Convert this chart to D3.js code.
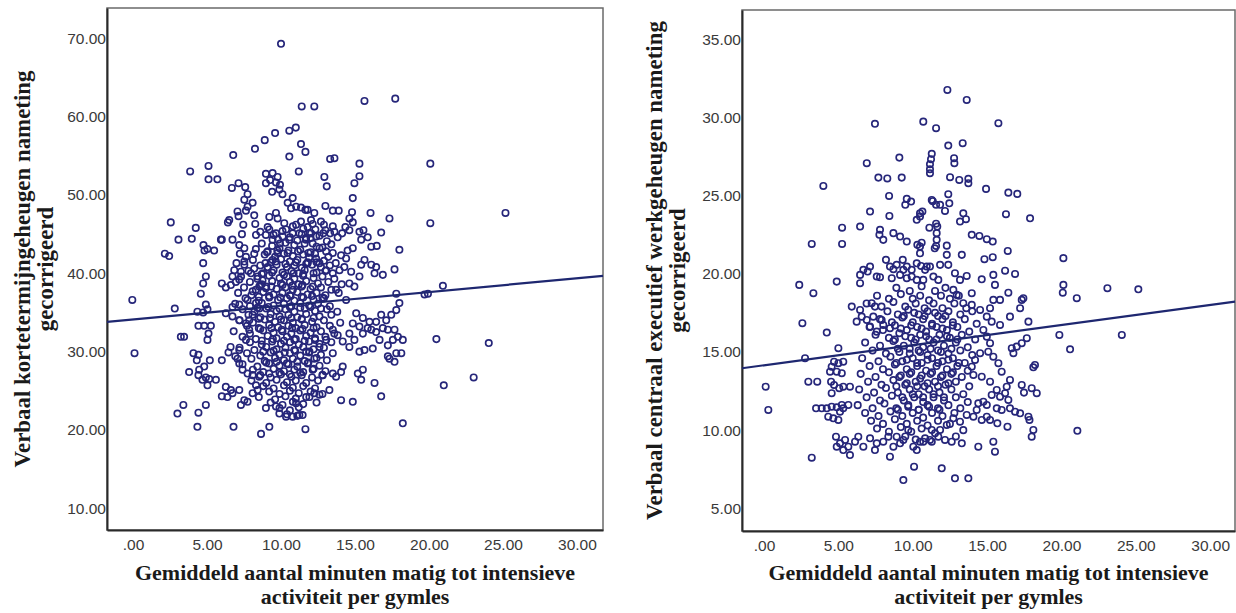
<!DOCTYPE html>
<html>
<head>
<meta charset="utf-8">
<script src="https://d3js.org/d3.v7.min.js"></script>
<style>
  html, body { margin: 0; padding: 0; background: #ffffff; }
  svg { display: block; }
</style>
</head>
<body>
<svg id="chart" width="1236" height="613"></svg>
<script>
// ---- data -------------------------------------------------------------
const activityTicks = [0, 5, 10, 15, 20, 25, 30];
const kortTicks = [10, 20, 30, 40, 50, 60, 70];
const werkTicks = [5, 10, 15, 20, 25, 30, 35];

const xTitle = ["Gemiddeld aantal minuten matig tot intensieve", "activiteit per gymles"];
const kortTitle = ["Verbaal kortetermijngeheugen nameting", "gecorrigeerd"];
const werkTitle = ["Verbaal centraal executief werkgeheugen nameting", "gecorrigeerd"];

// linear fit lines: [intercept, slope]
const kortFit = [34.11, 0.1749];
const werkFit = [14.15, 0.1285];

// [minutes MVPA per PE lesson, short-term memory score]
const kortPoints = [
  [10.0,69.3],[11.4,61.3],[12.25,61.3],[15.64,62.0],[17.72,62.3],
  [9.6,57.9],[10.56,58.2],[11.0,58.6],[8.9,57.0],[8.24,55.9],[11.35,56.5],[11.65,55.5],[6.77,55.1],[10.56,54.9],
  [5.1,53.7],[3.86,53.0],[5.1,52.0],[5.7,52.0],[11.2,53.0],
  [8.98,52.7],[9.43,52.8],[9.77,52.3],[9.26,51.9],[9.66,51.6],[9.93,51.3],[8.98,51.5],[9.89,50.7],[9.40,50.4],[10.1,50.1],
  [6.68,50.9],[7.13,51.5],[7.58,51.0],[7.74,50.1],[7.52,49.4],
  [8.08,49.0],[7.74,48.5],[7.63,48.0],[7.06,47.9],[7.13,47.3],[6.5,46.8],[6.41,46.5],
  [8.19,47.4],[8.26,46.3],[8.31,44.9],[7.45,46.2],[7.36,45.0],[6.72,44.3],[5.94,44.3],[7.18,43.6],[7.52,43.2],[7.22,42.5],[7.63,42.1],[7.52,41.5],[6.99,41.3],[8.19,42.5],
  [2.55,46.5],[4.24,45.8],[3.07,44.3],[3.97,44.4],[4.76,43.6],[5.03,43.1],[5.48,42.9],[4.83,42.9],[6.0,44.3],[2.15,42.5],[2.44,42.2],[4.74,41.3],[4.92,39.6],[4.74,38.7],[4.58,37.4],
  [6.0,38.7],[6.27,38.2],[6.61,38.5],[6.95,38.9],[6.72,39.6],[7.18,39.2],[7.29,40.2],[6.84,40.4],
  [7.52,41.1],[8.19,40.6],[7.97,40.0],[8.42,39.6],[8.75,39.1],[8.98,38.1],[8.53,38.3],[8.08,37.7],
  [9.09,40.8],[9.43,41.7],[9.77,42.6],[9.93,43.8],[9.43,44.3],[8.98,44.9],[9.21,45.6],[9.66,45.1],[10.11,44.7],[10.34,45.6],[10.22,46.4],[9.77,47.0],[9.66,47.7],[9.21,47.2],
  [10.45,49.0],[10.79,49.6],[10.68,48.3],[11.02,48.5],[11.35,48.4],[11.65,48.1],[12.25,47.7],[12.03,46.8],[11.80,45.9],[11.35,46.6],[11.02,46.2],[10.79,45.1],[10.56,44.3],[11.24,45.1],[11.69,44.5],[12.03,45.1],[12.32,45.6],
  [13.32,54.6],[13.61,54.7],[15.3,54.0],[20.09,54.0],[12.93,52.3],[13.09,51.1],[15.3,52.4],[14.96,51.5],[14.85,49.6],
  [11.8,48.1],[13.0,48.6],[13.5,48.0],[13.9,48.0],[14.8,47.8],[16.05,47.7],[17.33,47.0],[14.62,47.0],[14.35,45.9],[14.85,46.5],[14.13,45.1],[13.5,46.0],[13.0,45.5],[12.7,46.6],[12.14,46.3],[11.92,45.1],
  [12.37,44.7],[12.86,45.1],[13.32,45.1],[13.61,45.3],[13.83,44.6],[14.62,45.5],[15.3,45.3],[15.57,45.5],[15.86,44.6],[16.77,45.2],[16.1,43.4],[16.47,43.5],[15.42,44.3],[14.85,43.2],
  [14.4,41.9],[14.06,42.3],[13.5,42.6],[13.05,42.8],[12.6,43.2],[12.14,43.8],[11.69,44.3],[15.64,41.7],[15.42,41.1],[16.1,41.1],[16.43,40.8],[16.32,40.0],[16.88,39.8],[17.67,40.5],[18.0,43.0],
  [17.79,37.4],[15.3,39.6],[14.74,40.2],[14.28,40.8],[13.95,40.4],[13.5,40.0],[13.05,40.4],[12.6,41.3],[12.37,41.9],[11.8,41.3],[14.96,38.3],[14.62,38.7],[13.72,37.9],
  [20.94,38.4],[19.93,37.4],[19.7,37.3],[25.17,47.7],[20.09,46.4],
  [20.5,31.6],[24.04,31.1],[21.0,25.7],[23.02,26.7],[18.23,20.85],[11.65,20.1],[11.46,21.9],
  [18.0,36.2],[17.79,35.3],[17.45,34.7],[17.11,34.0],[16.77,34.7],[16.43,33.8],[15.98,33.8],[15.53,34.3],[15.08,34.9],[14.85,33.6],[14.62,32.3],[14.96,31.5],[15.3,33.2],[15.53,32.3],[15.86,33.0],
  [16.1,32.8],[16.43,32.5],[16.88,33.0],[17.22,32.8],[17.67,32.8],[17.9,31.9],[17.56,31.5],[17.22,30.8],[16.66,31.5],[16.2,30.4],[15.64,30.2],[15.3,30.0],[14.62,30.6],[14.17,31.3],[13.83,32.1],
  [13.5,32.8],[13.05,31.5],[12.6,30.6],[12.25,29.1],[11.92,30.0],[12.14,27.7],[12.82,27.0],[13.5,27.2],[14.17,28.1],[14.06,27.4],[13.72,26.8],[13.27,25.1],[12.6,24.5],[12.25,24.7],[11.92,24.2],
  [14.06,23.8],[14.85,23.6],[15.19,27.2],[15.53,27.7],[15.42,26.4],[16.32,26.0],[16.77,24.3],[17.22,29.4],[17.67,28.7],[17.79,29.8],[18.23,31.5],[18.13,29.8],[17.33,29.1],
  [-0.05,36.6],[0.1,29.8],[2.82,35.5],[3.23,31.9],[3.45,31.9],[3.0,22.1],[3.4,23.2],[4.42,22.2],[4.92,23.2],[4.35,20.4],[6.79,20.4],[8.65,19.5],[9.21,20.4],
  [3.79,27.4],[4.08,29.8],[4.42,29.6],[4.31,28.9],[4.47,27.7],[4.81,28.1],[4.42,27.0],[4.69,26.4],[4.92,26.7],[5.15,26.5],[5.03,25.7],[5.6,26.4],[5.19,28.9],[5.03,31.5],[5.1,32.3],
  [4.42,33.3],[4.81,33.3],[5.26,33.3],[4.35,35.1],[4.92,36.0],[4.74,35.0],[5.03,35.4],[6.0,28.9],[6.45,29.9],[6.59,30.6],[7.06,29.1],[6.61,25.1],[6.0,24.3],[6.38,24.2],[6.27,25.5],
  [6.72,24.7],[7.18,25.1],[7.52,23.8],[7.29,23.2],[7.74,23.6],[8.08,24.7],[8.42,25.1],[8.31,25.7],[8.53,26.8],[8.08,27.0],[7.74,27.2],[7.4,27.7],[7.18,28.5],[6.91,29.4],[7.18,30.2],
  [7.63,31.5],[7.85,32.8],[7.63,33.6],[7.18,34.0],[6.72,34.5],[6.27,34.9],[6.72,35.7],[7.18,36.0],[7.74,36.6],[8.31,36.2],[8.53,35.5],[8.08,34.7],[7.85,34.0],
  [8.98,22.8],[9.66,23.0],[9.89,22.1],[10.34,21.7],[10.79,21.7],[11.24,21.9],[11.02,23.4],
  [9.1,45.9],[10.8,46.0],[11.5,45.7],[12.9,46.2],
  [8.6,45.3],[9.5,44.9],[10.1,45.4],[11.4,45.0],[12.6,44.8],
  [9.8,44.3],[10.6,44.6],[11.1,44.2],[12.0,44.5],[13.1,44.1],
  [8.7,43.8],[9.4,43.5],[10.3,43.9],[10.9,43.6],[11.6,43.8],[12.4,43.4],[13.4,43.7],
  [8.3,43.1],[9.1,42.8],[9.9,43.2],[10.5,42.9],[11.3,43.0],[12.0,42.7],[12.8,43.3],[14.5,42.9],
  [8.9,42.4],[9.6,42.1],[10.2,42.5],[10.8,42.2],[11.5,42.4],[11.9,42.0],[12.3,42.5],[13.2,42.1],
  [8.1,41.7],[9.3,41.4],[10.0,41.8],[10.6,41.5],[11.1,41.7],[11.8,41.4],[12.9,41.6],[13.7,41.3],
  [8.6,41.0],[9.1,40.7],[9.7,41.1],[10.4,40.8],[10.9,41.0],[11.4,40.7],[12.1,41.1],[12.7,40.8],[13.3,41.0],
  [7.8,40.3],[8.8,40.0],[9.5,40.4],[10.1,40.1],[10.7,40.3],[11.2,40.0],[11.6,40.4],[12.4,40.1],[13.0,40.3],
  [7.3,39.6],[8.4,39.3],[9.2,39.7],[9.9,39.4],[10.4,39.6],[10.9,39.3],[11.5,39.7],[12.2,39.4],[12.8,39.6],[13.6,39.3],
  [7.9,38.9],[8.7,38.6],[9.4,39.0],[10.0,38.7],[10.6,38.9],[11.2,38.6],[11.7,39.0],[12.5,38.7],[13.2,38.9],[14.1,38.6],
  [7.5,38.2],[8.3,37.9],[9.0,38.3],[9.7,38.0],[10.3,38.2],[10.8,37.9],[11.4,38.3],[12.0,38.0],[12.7,38.2],[13.4,37.9],
  [7.1,37.5],[8.0,37.2],[8.8,37.6],[9.5,37.3],[10.1,37.5],[10.6,37.2],[11.1,37.6],[11.8,37.3],[12.4,37.5],[13.0,37.2],[13.9,37.5],
  [7.6,36.8],[8.5,36.5],[9.2,36.9],[9.8,36.6],[10.4,36.8],[10.9,36.5],[11.5,36.9],[12.2,36.6],[12.9,36.8],[14.4,36.6],
  [6.9,36.1],[7.9,35.8],[8.7,36.2],[9.5,35.9],[10.2,36.1],[10.7,35.8],[11.3,36.2],[11.9,35.9],[12.5,36.1],[13.3,35.8],
  [7.4,35.4],[8.2,35.1],[9.0,35.5],[9.7,35.2],[10.3,35.4],[10.9,35.1],[11.6,35.5],[12.3,35.2],[13.1,35.4],[13.8,35.1],
  [7.8,34.7],[8.6,34.4],[9.3,34.8],[9.9,34.5],[10.5,34.7],[11.1,34.4],[11.7,34.8],[12.6,34.5],[13.4,34.7],
  [7.2,34.0],[8.1,33.7],[8.9,34.1],[9.6,33.8],[10.2,34.0],[10.8,33.7],[11.4,34.1],[12.1,33.8],[12.9,34.0],[14.0,33.7],
  [7.7,33.3],[8.5,33.0],[9.2,33.4],[9.8,33.1],[10.5,33.3],[11.0,33.0],[11.6,33.4],[12.4,33.1],[13.3,33.3],
  [6.8,32.6],[7.9,32.3],[8.8,32.7],[9.5,32.4],[10.1,32.6],[10.7,32.3],[11.3,32.7],[12.0,32.4],[12.7,32.6],[13.6,32.3],
  [7.4,31.9],[8.3,31.6],[9.1,32.0],[9.7,31.7],[10.4,31.9],[11.0,31.6],[11.7,32.0],[12.3,31.7],[13.0,31.9],
  [7.9,31.2],[8.7,30.9],[9.4,31.3],[10.0,31.0],[10.6,31.2],[11.2,30.9],[11.9,31.3],[12.6,31.0],[13.4,31.2],
  [7.2,30.5],[8.2,30.2],[9.0,30.6],[9.7,30.3],[10.3,30.5],[10.9,30.2],[11.5,30.6],[12.2,30.3],[12.9,30.5],
  [7.7,29.8],[8.6,29.5],[9.3,29.9],[9.9,29.6],[10.6,29.8],[11.3,29.5],[11.9,29.9],[12.7,29.6],[13.5,29.8],
  [8.0,29.1],[8.9,28.8],[9.6,29.2],[10.2,28.9],[10.8,29.1],[11.6,28.8],[12.4,29.2],[13.1,28.9],
  [7.4,28.4],[8.4,28.1],[9.2,28.5],[9.9,28.2],[10.5,28.4],[11.1,28.1],[11.8,28.5],[12.6,28.2],
  [8.1,27.7],[8.8,27.4],[9.5,27.8],[10.2,27.5],[10.9,27.7],[11.5,27.4],[12.2,27.8],[13.0,27.5],
  [8.6,27.0],[9.3,26.7],[10.0,27.1],[10.7,26.8],[11.4,27.0],[12.1,26.7],[12.8,27.0],
  [8.0,26.3],[9.0,26.0],[9.7,26.4],[10.4,26.1],[11.0,26.3],[11.7,26.0],[12.5,26.3],
  [8.8,25.6],[9.5,25.3],[10.2,25.7],[10.8,25.4],[11.5,25.6],[12.3,25.3],
  [9.2,24.9],[9.9,24.6],[10.6,25.0],[11.2,24.7],[12.0,24.9],[12.8,24.6],
  [8.5,24.2],[9.6,23.9],[10.3,24.3],[11.0,24.0],[11.7,24.2],
  [9.3,23.5],[10.1,23.2],[10.8,23.6],[11.5,23.3],[12.4,23.5],
  [9.9,22.8],[10.6,22.5],[11.2,22.9],[10.4,22.0],[11.1,21.8],
  [9.05,42.7],[9.75,42.9],[10.45,42.6],[11.15,42.8],[11.85,42.6],
  [8.95,41.3],[9.65,41.5],[10.3,41.2],[11.0,41.4],[11.7,41.2],[12.4,41.4],
  [8.7,39.9],[9.4,40.1],[10.2,39.8],[10.85,40.0],[11.5,39.9],[12.2,40.0],
  [8.6,38.5],[9.35,38.3],[10.1,38.5],[10.75,38.4],[11.45,38.5],[12.15,38.3],
  [8.5,37.0],[9.2,37.1],[9.95,36.9],[10.65,37.1],[11.4,37.0],[12.1,37.1],[12.8,36.9],
  [8.4,35.6],[9.15,35.7],[9.9,35.5],[10.6,35.7],[11.3,35.6],[12.0,35.7],[12.7,35.5],
  [8.5,34.2],[9.25,34.3],[10.0,34.1],[10.7,34.3],[11.4,34.2],[12.2,34.3],
  [8.6,32.9],[9.35,33.0],[10.05,32.8],[10.75,33.0],[11.45,32.9],[12.2,33.0],
  [8.7,31.4],[9.45,31.6],[10.2,31.4],[10.9,31.5],[11.6,31.4],[12.3,31.5],
  [8.8,30.0],[9.5,30.1],[10.25,29.9],[10.95,30.1],[11.7,30.0],
  [9.0,28.6],[9.7,28.7],[10.4,28.5],[11.1,28.7],[11.85,28.6],
  [9.2,27.2],[9.9,27.3],[10.6,27.1],[11.3,27.3]
];

// [minutes MVPA per PE lesson, working-memory score]
const werkPoints = [
  [7.46,29.59],[10.71,29.73],[11.57,29.31],[3.99,25.62],[6.91,27.07],[9.1,27.43],[7.69,26.15],[8.29,26.1],[9.26,26.15],
  [11.28,27.67],[11.23,27.33],[11.16,27.01],[11.16,26.69],[11.16,26.43],[8.41,24.98],[9.6,24.79],[9.89,24.62],[9.5,24.41],[11.28,24.72],[11.57,24.41],
  [7.13,23.98],[8.43,23.7],[10.49,23.66],[10.65,23.98],[10.27,23.45],[5.25,22.95],[6.46,23.02],[3.21,21.91],[5.25,21.91],
  [7.8,22.81],[7.76,22.49],[8.02,22.17],[8.7,22.6],[9.15,22.38],[9.6,22.06],[10.49,21.31],[10.31,21.85],[10.6,21.99],[11.57,21.78],[11.61,22.6],[11.65,23.02],
  [8.2,20.89],[8.47,20.46],[8.92,20.57],[9.33,20.89],[9.6,20.46],[9.93,20.25],[9.37,20.25],[8.7,20.29],[10.27,20.67],[10.56,20.5],[10.83,20.25],[11.16,20.46],
  [11.39,19.82],[10.71,19.61],[10.27,19.61],[9.93,19.82],[9.6,19.72],[9.15,19.93],[7.13,20.46],[6.68,20.25],[6.97,20.14],[6.46,19.93],[7.58,19.82],[7.8,19.78],
  [8.59,19.72],[4.89,19.5],[6.46,19.4],[2.37,19.29],[3.32,18.76],
  [12.33,31.76],[13.63,31.12],[15.76,29.63],[12.39,28.2],[13.36,28.35],[12.78,27.39],[12.8,27.07],[12.51,26.18],[13.13,26.0],[13.74,26.07],[13.74,25.79],
  [14.93,25.43],[16.43,25.19],[17.03,25.11],[12.39,25.09],[11.35,24.64],[11.84,24.41],[12.17,24.02],[12.46,24.51],[10.49,23.87],[13.4,23.87],[13.18,23.34],
  [13.58,23.49],[16.27,23.81],[17.89,23.55],[11.12,22.95],[11.57,23.2],[13.97,22.49],[14.48,22.42],[14.98,22.21],[15.38,22.06],[10.49,21.74],[11.61,22.17],
  [11.48,21.63],[12.29,21.8],[13.3,21.21],[12.29,21.21],[14.82,20.93],[15.38,21.06],[16.39,21.46],[20.13,21.0],
  [10.94,20.46],[11.84,20.57],[12.39,20.57],[11.72,19.61],[12.84,20.04],[13.18,19.61],[13.63,19.86],[14.64,19.65],[15.42,19.93],[15.53,19.29],[16.21,20.2],
  [16.88,19.99],[13.97,18.76],[12.73,18.97],[12.96,18.65],[16.43,18.79],[17.44,18.44],[20.13,19.29],[20.09,18.79],[21.03,18.44],[23.09,19.08],[25.17,19.01],
  [19.86,16.09],[24.06,16.09],[20.58,15.17],[21.07,9.96],[11.95,7.56],[12.84,6.92],[13.74,6.92],[17.78,16.94],[17.67,15.88],[17.33,15.56],[16.99,15.34],
  [16.66,15.24],[16.77,14.92],[18.22,14.17],[18.11,14.02],[17.33,12.89],[17.48,12.4],[18.0,12.68],[18.34,12.36],
  [16.54,13.21],[16.32,12.78],[16.21,12.36],[16.43,11.93],[15.87,12.14],[15.65,12.57],[15.31,12.25],[15.65,11.4],[15.98,11.29],[16.54,11.4],[16.88,11.18],
  [17.22,11.08],[17.78,10.86],[17.85,10.65],[18.11,10.01],[18.0,9.58],[16.37,10.22],[15.69,10.44],[15.2,10.65],[14.98,10.86],[14.64,10.65],[14.41,8.94],
  [15.42,9.26],[15.53,8.62],[14.98,11.61],[14.75,11.82],[14.41,11.72],[14.3,11.29],[14.08,10.86],[13.63,10.97],[13.18,10.54],[12.73,10.76],[13.3,9.16],
  [12.62,9.26],[12.17,9.37],[11.72,9.58],[11.28,9.26],[10.71,9.26],[11.28,10.01],[11.84,10.01],[12.29,10.33],
  [13.4,18.12],[13.97,18.01],[14.53,17.69],[15.2,17.8],[15.42,18.33],[15.87,18.33],[14.98,17.26],[15.31,16.94],[15.87,16.73],[16.54,17.26],[17.22,17.8],
  [17.33,18.33],[14.75,16.41],[14.98,15.98],[15.2,15.56],[15.08,15.02],[15.42,14.7],[15.76,14.28],[15.98,13.74],[14.53,14.92],[14.19,14.49],[13.97,14.06],
  [14.08,13.53],[14.64,13.42],[15.2,13.1],
  [0.11,12.78],[0.29,11.29],[2.58,16.84],[4.22,16.24],[5.0,15.24],[2.76,14.6],[3.21,8.24],[5.78,8.41],[9.37,6.81],[10.09,7.66],[2.98,13.1],[3.58,13.1],
  [4.51,13.1],[4.71,12.89],[5.06,12.68],[5.33,12.78],[5.78,12.78],[4.55,12.36],
  [3.5,11.4],[3.88,11.4],[4.22,11.4],[4.55,11.5],[4.89,11.46],[5.23,11.61],[5.67,11.61],[4.32,10.86],[4.66,10.76],[5.0,10.65],[5.11,11.18],[5.33,11.4],
  [4.71,14.38],[5.0,14.28],[5.33,14.38],[4.55,14.06],[4.44,13.74],[4.89,13.74],[5.23,13.64],[5.9,17.9],
  [4.84,9.58],[5.11,9.16],[5.45,9.37],[5.67,8.94],[4.89,8.94],[5.33,8.73],[6.12,9.26],[6.34,9.58],[6.68,8.94],[7.13,9.48],[7.58,9.16],[7.46,8.73],
  [8.02,9.26],[8.36,9.58],[8.47,8.3],[9.15,9.16],[8.7,8.94],[8.92,9.58],[9.37,9.37],[9.7,10.01],[10.04,8.94],[10.27,8.73],[10.49,9.26],[10.83,9.48],[11.16,9.37],
  [6.46,17.69],[6.57,17.26],[6.91,17.05],[6.23,16.94],[7.35,17.26],[7.13,16.62],[7.58,16.3],[8.02,16.73],[8.47,16.52],[7.91,17.05],[7.46,17.9],[7.24,18.12],
  [8.9,19.1],[9.8,18.9],[10.6,19.2],[11.5,18.9],[12.2,19.1],
  [7.6,18.6],[8.4,18.4],[9.2,18.7],[10.0,18.4],[10.5,18.6],[11.1,18.3],[11.9,18.6],[12.5,18.4],[13.1,18.6],
  [6.9,18.1],[7.9,17.9],[8.7,18.2],[9.5,17.9],[10.2,18.1],[10.8,17.8],[11.4,18.1],[12.0,17.8],[12.8,18.1],[13.6,17.8],
  [8.3,17.6],[9.0,17.4],[9.7,17.7],[10.4,17.4],[11.0,17.6],[11.7,17.3],[12.4,17.6],[13.2,17.4],[14.0,17.6],
  [7.8,17.1],[8.6,16.9],[9.3,17.2],[10.0,16.9],[10.7,17.1],[11.3,16.8],[12.0,17.1],[12.7,16.9],[13.5,17.1],[14.3,16.8],
  [7.1,16.6],[8.0,16.4],[8.8,16.7],[9.6,16.4],[10.3,16.6],[10.9,16.3],[11.6,16.6],[12.3,16.4],[13.0,16.6],[13.8,16.3],
  [7.5,16.1],[8.4,15.9],[9.1,16.2],[9.9,15.9],[10.5,16.1],[11.1,15.8],[11.8,16.1],[12.5,15.9],[13.3,16.1],[14.2,15.8],
  [6.8,15.6],[7.8,15.4],[8.7,15.7],[9.4,15.4],[10.1,15.6],[10.7,15.3],[11.4,15.6],[12.1,15.4],[12.9,15.6],[13.7,15.3],
  [7.3,15.1],[8.2,14.9],[9.0,15.2],[9.8,14.9],[10.4,15.1],[11.0,14.8],[11.7,15.1],[12.4,14.9],[13.2,15.1],[14.0,14.8],
  [6.6,14.6],[7.7,14.4],[8.5,14.7],[9.3,14.4],[10.0,14.6],[10.6,14.3],[11.3,14.6],[12.0,14.4],[12.7,14.6],[13.5,14.3],
  [7.1,14.1],[8.0,13.9],[8.8,14.2],[9.6,13.9],[10.3,14.1],[10.9,13.8],[11.6,14.1],[12.3,13.9],[13.0,14.1],[13.7,13.8],
  [6.5,13.6],[7.5,13.4],[8.4,13.7],[9.1,13.4],[9.8,13.6],[10.5,13.3],[11.2,13.6],[11.9,13.4],[12.6,13.6],[13.3,13.4],
  [7.0,13.1],[7.9,12.9],[8.7,13.2],[9.5,12.9],[10.2,13.1],[10.8,12.8],[11.5,13.1],[12.2,12.9],[12.9,13.1],[13.8,12.8],
  [6.4,12.6],[7.4,12.4],[8.2,12.7],[9.0,12.4],[9.8,12.6],[10.4,12.3],[11.1,12.6],[11.8,12.4],[12.6,12.6],[13.4,12.3],
  [6.9,12.1],[7.8,11.9],[8.6,12.2],[9.4,11.9],[10.1,12.1],[10.7,11.8],[11.4,12.1],[12.1,11.9],[12.9,12.1],[13.7,11.8],
  [6.3,11.6],[7.3,11.4],[8.1,11.7],[8.9,11.4],[9.7,11.6],[10.4,11.3],[11.0,11.6],[11.7,11.4],[12.4,11.6],[13.2,11.4],
  [6.8,11.1],[7.7,10.9],[8.5,11.2],[9.3,10.9],[10.0,11.1],[10.7,10.8],[11.3,11.1],[12.0,10.9],[12.8,11.1],
  [7.2,10.6],[8.0,10.4],[8.8,10.7],[9.6,10.4],[10.3,10.6],[11.0,10.3],[11.7,10.6],[12.5,10.4],
  [7.6,10.1],[8.4,9.9],[9.2,10.2],[9.9,9.9],[10.6,10.1],[11.5,9.8],[13.4,10.0],
  [9.5,9.6],[10.2,9.4],[12.9,9.6],
  [9.4,17.3],[10.1,17.5],[10.8,17.3],[11.5,17.5],[12.2,17.3],
  [9.2,16.5],[9.9,16.7],[10.6,16.5],[11.3,16.7],[12.0,16.5],[12.7,16.7],
  [8.8,15.8],[9.5,16.0],[10.2,15.8],[10.9,16.0],[11.6,15.8],[12.3,16.0],[13.0,15.8],
  [9.1,15.0],[9.8,15.2],[10.5,15.0],[11.2,15.2],[11.9,15.0],[12.6,15.2],
  [8.9,14.3],[9.6,14.5],[10.3,14.3],[11.0,14.5],[11.7,14.3],[12.4,14.5],[13.1,14.3],
  [9.2,13.5],[9.9,13.7],[10.6,13.5],[11.3,13.7],[12.0,13.5],[12.7,13.7],
  [8.9,12.8],[9.6,13.0],[10.3,12.8],[11.0,13.0],[11.7,12.8],[12.4,13.0],
  [9.3,12.1],[10.0,12.3],[10.7,12.1],[11.4,12.3],[12.1,12.1],
  [9.0,11.3],[9.7,11.5],[10.4,11.3],[11.1,11.5],[11.8,11.3]
];

// ---- drawing ----------------------------------------------------------
const svg = d3.select("#chart");
const pointColor = "#26267a";
const lineColor = "#1e2770";
const tickFmt = v => v === 0 ? ".00" : v.toFixed(2);

const panels = [
  { points: kortPoints, fit: kortFit, yTicks: kortTicks, yTitle: kortTitle,
    left: 107, right: 603, top: 8, bottom: 530,
    xDomain: [-1.76, 31.76], yDomain: [7.23, 73.87],
    titleX: [30, 53], titleWidth: 397 },
  { points: werkPoints, fit: werkFit, yTicks: werkTicks, yTitle: werkTitle,
    left: 742, right: 1235, top: 10, bottom: 531,
    xDomain: [-1.48, 31.67], yDomain: [3.55, 36.87],
    titleX: [662, 685], titleWidth: 499 }
];

function fitWidth(sel, target) {
  const w = sel.node().getComputedTextLength();
  const fs = parseFloat(sel.attr("font-size"));
  sel.attr("font-size", (fs * target / w).toFixed(2));
}

panels.forEach(p => {
  const x = d3.scaleLinear().domain(p.xDomain).range([p.left, p.right]);
  const y = d3.scaleLinear().domain(p.yDomain).range([p.bottom, p.top]);
  const g = svg.append("g");

  // plot frame
  g.append("rect")
    .attr("x", p.left).attr("y", p.top)
    .attr("width", p.right - p.left).attr("height", p.bottom - p.top)
    .attr("fill", "#ffffff").attr("stroke", "#6a6a6a").attr("stroke-width", 1.5);

  // axes (labels only, no tick marks)
  const xAxis = d3.axisBottom(x).tickValues(activityTicks).tickFormat(tickFmt).tickSize(0).tickPadding(9);
  const yAxis = d3.axisLeft(y).tickValues(p.yTicks).tickFormat(tickFmt).tickSize(0).tickPadding(1);

  const gx = g.append("g").attr("transform", `translate(0,${p.bottom})`).call(xAxis);
  const gy = g.append("g").attr("transform", `translate(${p.left},0)`).call(yAxis);
  [gx, gy].forEach(a => {
    a.select(".domain").attr("stroke", "#2a2a2a").attr("stroke-width", 2);
    a.selectAll("text")
      .attr("font-family", "Liberation Sans, Arial, sans-serif")
      .attr("font-size", 15.5)
      .attr("fill", "#3a3a3a");
  });

  // scatter points
  g.append("g").selectAll("circle")
    .data(p.points)
    .join("circle")
    .attr("cx", d => x(d[0]))
    .attr("cy", d => y(d[1]))
    .attr("r", 3.2)
    .attr("fill", "none")
    .attr("stroke", pointColor)
    .attr("stroke-width", 1.65);

  // fit line across the full x range
  const [b0, b1] = p.fit;
  const xs = p.xDomain;
  g.append("line")
    .attr("x1", x(xs[0])).attr("y1", y(b0 + b1 * xs[0]))
    .attr("x2", x(xs[1])).attr("y2", y(b0 + b1 * xs[1]))
    .attr("stroke", lineColor).attr("stroke-width", 2.2);

  // x title (two lines)
  const cx = (p.left + p.right) / 2;
  const xt1 = g.append("text").attr("x", cx).attr("y", 580)
    .attr("text-anchor", "middle")
    .attr("font-family", "Liberation Serif, Times New Roman, serif")
    .attr("font-weight", "bold").attr("font-size", 20).attr("fill", "#1a1a1a")
    .text(xTitle[0]);
  fitWidth(xt1, 440);
  g.append("text").attr("x", cx).attr("y", 604)
    .attr("text-anchor", "middle")
    .attr("font-family", "Liberation Serif, Times New Roman, serif")
    .attr("font-weight", "bold").attr("font-size", xt1.attr("font-size")).attr("fill", "#1a1a1a")
    .text(xTitle[1]);

  // y title (rotated, two lines)
  const cy = (p.top + p.bottom) / 2;
  const yt1 = g.append("text")
    .attr("transform", `translate(${p.titleX[0]},${cy}) rotate(-90)`)
    .attr("text-anchor", "middle")
    .attr("font-family", "Liberation Serif, Times New Roman, serif")
    .attr("font-weight", "bold").attr("font-size", 20).attr("fill", "#1a1a1a")
    .text(p.yTitle[0]);
  fitWidth(yt1, p.titleWidth);
  g.append("text")
    .attr("transform", `translate(${p.titleX[1]},${cy}) rotate(-90)`)
    .attr("text-anchor", "middle")
    .attr("font-family", "Liberation Serif, Times New Roman, serif")
    .attr("font-weight", "bold").attr("font-size", yt1.attr("font-size")).attr("fill", "#1a1a1a")
    .text(p.yTitle[1]);
});
</script>
</body>
</html>
